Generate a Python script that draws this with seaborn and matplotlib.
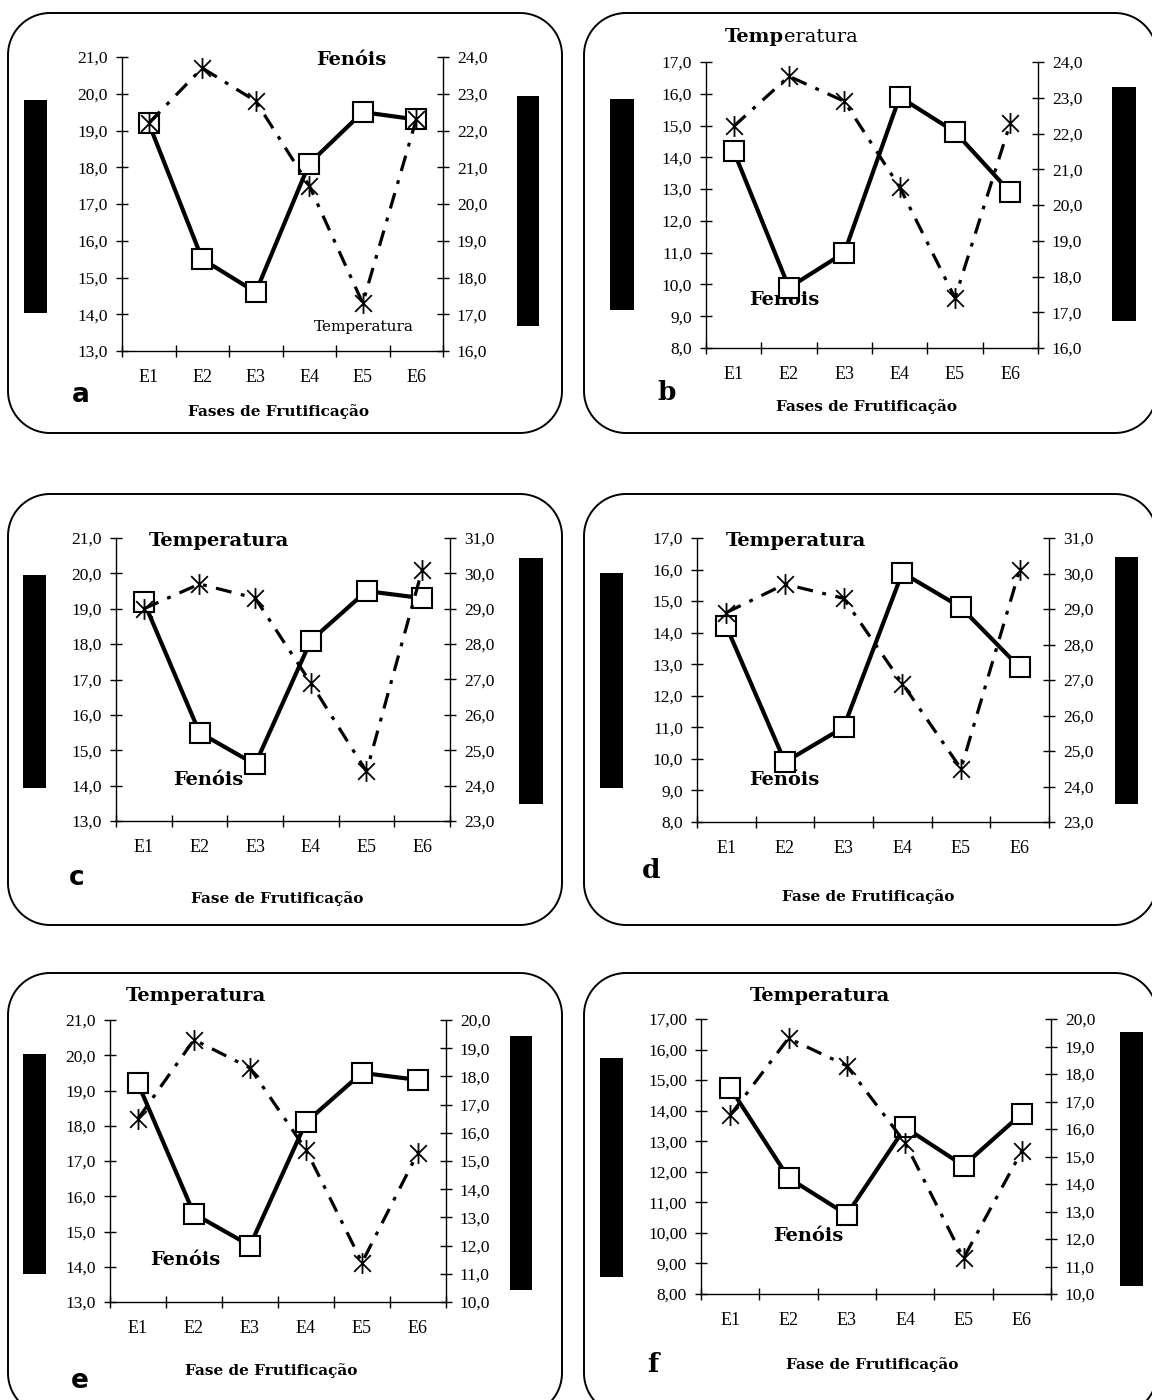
import numpy as np
import matplotlib
matplotlib.use('Agg')
import matplotlib.pyplot as plt
import seaborn as sns
from matplotlib.path import Path
from matplotlib.patches import Polygon, Rectangle
from matplotlib.ticker import FuncFormatter, FixedLocator

# data
stages = ['E1', 'E2', 'E3', 'E4', 'E5', 'E6']

fenois_ace = [19.2, 15.5, 14.6, 18.1, 19.5, 19.3]
fenois_bd = [14.2, 9.9, 11.0, 15.9, 14.8, 12.9]
fenois_f = [14.75, 11.8, 10.6, 13.45, 12.2, 13.9]

temp_a = [22.2, 23.7, 22.8, 20.5, 17.3, 22.3]
temp_b = [22.2, 23.6, 22.9, 20.5, 17.4, 22.3]
temp_c = [29.0, 29.7, 29.3, 26.9, 24.4, 30.1]
temp_d = [28.9, 29.7, 29.3, 26.9, 24.5, 30.1]
temp_e = [16.5, 19.3, 18.3, 15.4, 11.4, 15.3]
temp_f = [16.5, 19.3, 18.3, 15.5, 11.3, 15.2]

panel_letters = ['a', 'b', 'c', 'd', 'e', 'f']
xlabels = ['Fases de Frutificação', 'Fases de Frutificação', 'Fase de Frutificação',
           'Fase de Frutificação', 'Fase de Frutificação', 'Fase de Frutificação']

sns.set_style('ticks')
plt.rcParams['font.family'] = ['Liberation Serif', 'DejaVu Serif']
plt.rcParams['text.color'] = 'black'
plt.rcParams['xtick.color'] = 'black'
plt.rcParams['ytick.color'] = 'black'
plt.rcParams['xtick.labelcolor'] = 'black'
plt.rcParams['ytick.labelcolor'] = 'black'

W, H = 1152, 1400
fig = plt.figure(figsize=(W / 100, H / 100), dpi=100)

# background axes in pixel units for boxes, bars and free labels
bg = fig.add_axes([0, 0, 1, 1])
bg.set_xlim(0, W)
bg.set_ylim(H, 0)
bg.axis('off')

# star marker: vertical bar with an X through it
star = Path([(0, -1), (0, 1), (-0.8, -0.8), (0.8, 0.8), (-0.8, 0.8), (0.8, -0.8)],
            [Path.MOVETO, Path.LINETO] * 3)


def rounded_box(l, r, t, b, rad=42, n=24):
    # rounded rectangle as a plain polygon (clips cleanly at the canvas edge)
    pts = []
    corners = [(r - rad, t + rad, -90, 0), (r - rad, b - rad, 0, 90),
               (l + rad, b - rad, 90, 180), (l + rad, t + rad, 180, 270)]
    for cx, cy, a0, a1 in corners:
        ang = np.radians(np.linspace(a0, a1, n))
        pts += list(zip(cx + rad * np.cos(ang), cy + rad * np.sin(ang)))
    return Polygon(pts, closed=True, fc='none', ec='black', lw=1.4, clip_on=False)


# layout in pixels
panels = [
    dict(box=(8, 562, 13, 433), axbox=(122, 443, 57, 351), fen=fenois_ace, temp=temp_a,
         yl=(13, 21), yr=(16, 24), dl=1, bars=[(24, 47, 100, 313), (517, 539, 96, 326)],
         letter=(81, 395, 'sans'), xl=(278, 412)),
    dict(box=(584, 1157, 13, 433), axbox=(706, 1038, 62, 348), fen=fenois_bd, temp=temp_b,
         yl=(8, 17), yr=(16, 24), dl=1, bars=[(610, 634, 99, 310), (1112, 1136, 87, 321)],
         letter=(667, 392, 'serif'), xl=(867, 407)),
    dict(box=(8, 562, 494, 925), axbox=(116, 450, 538, 821), fen=fenois_ace, temp=temp_c,
         yl=(13, 21), yr=(23, 31), dl=1, bars=[(23, 46, 575, 788), (519, 543, 558, 804)],
         letter=(77, 878, 'sans'), xl=(277, 899)),
    dict(box=(584, 1157, 494, 925), axbox=(697, 1049, 538, 822), fen=fenois_bd, temp=temp_d,
         yl=(8, 17), yr=(23, 31), dl=1, bars=[(600, 623, 573, 788), (1115, 1138, 557, 804)],
         letter=(651, 870, 'serif'), xl=(868, 897)),
    dict(box=(8, 562, 973, 1415), axbox=(110, 446, 1020, 1302), fen=fenois_ace, temp=temp_e,
         yl=(13, 21), yr=(10, 20), dl=1, bars=[(23, 46, 1054, 1274), (510, 532, 1036, 1290)],
         letter=(80, 1381, 'sans'), xl=(271, 1371)),
    dict(box=(584, 1157, 973, 1415), axbox=(701, 1051, 1019, 1294), fen=fenois_f, temp=temp_f,
         yl=(8, 17), yr=(10, 20), dl=2, bars=[(600, 623, 1058, 1277), (1120, 1143, 1032, 1286)],
         letter=(653, 1365, 'serif'), xl=(872, 1365)),
]

for i, p in enumerate(panels):
    bg.add_patch(rounded_box(*p['box']))
    for (bl, br, bt, bb) in p['bars']:
        bg.add_patch(Rectangle((bl, bt), br - bl, bb - bt, fc='black', ec='none'))

    lx, ly, lf = p['letter']
    bg.text(lx, ly, panel_letters[i], ha='center', va='center', fontsize=19,
            fontweight='bold', family='DejaVu Sans' if lf == 'sans' else 'DejaVu Serif')
    bg.text(p['xl'][0], p['xl'][1], xlabels[i], ha='center', va='center',
            fontsize=11, fontweight='bold', family='DejaVu Serif')

    al, ar, at, ab = p['axbox']
    ax = fig.add_axes([al / W, 1 - ab / H, (ar - al) / W, (ab - at) / H])
    ax.patch.set_visible(False)

    sns.lineplot(x=stages, y=p['fen'], ax=ax, color='black', lw=3, marker='s', markersize=14,
                 markerfacecolor='white', markeredgecolor='black', markeredgewidth=1.5,
                 sort=False, legend=False, clip_on=False)

    ax2 = ax.twinx()
    sns.lineplot(x=stages, y=p['temp'], ax=ax2, color='black', lw=2.3,
                 linestyle=(0, (5, 3, 1.2, 3)), marker=star, markersize=15,
                 markeredgewidth=1.3, markeredgecolor='black', sort=False, legend=False,
                 clip_on=False)

    ax.set_xlim(-0.5, 5.5)
    ax.set_ylim(*p['yl'])
    ax2.set_ylim(*p['yr'])
    ax.set_yticks(np.arange(p['yl'][0], p['yl'][1] + 0.5, 1))
    ax2.set_yticks(np.arange(p['yr'][0], p['yr'][1] + 0.5, 1))
    dl = p['dl']
    ax.yaxis.set_major_formatter(FuncFormatter(lambda v, pos, d=dl: f'{v:.{d}f}'.replace('.', ',')))
    ax2.yaxis.set_major_formatter(FuncFormatter(lambda v, pos: f'{v:.1f}'.replace('.', ',')))

    ax.xaxis.set_minor_locator(FixedLocator(np.arange(-0.5, 6, 1)))
    ax.tick_params(axis='x', which='major', length=0, pad=13, labelsize=13)
    ax.tick_params(axis='x', which='minor', direction='inout', length=8, width=1, color='black')
    ax.tick_params(axis='y', direction='inout', length=8, width=1, pad=6, labelsize=12.5)
    ax2.tick_params(axis='y', direction='inout', length=8, width=1, pad=6, labelsize=12.5)

    for s in ['top', 'right']:
        ax.spines[s].set_visible(False)
    for s in ['top', 'left', 'bottom']:
        ax2.spines[s].set_visible(False)
    for a in (ax, ax2):
        for s in a.spines.values():
            s.set_linewidth(1)
            s.set_color('black')
        a.set_xlabel('')
        a.set_ylabel('')

bold = dict(fontsize=14, fontweight='bold', family='DejaVu Serif', ha='center', va='center')

# panel a
bg.text(351, 60, 'Fenóis', **bold)
bg.text(364, 327, 'Temperatura', fontsize=11, family='DejaVu Serif', ha='center', va='center')
# panel b
t1 = bg.text(725, 37, 'Temp', fontsize=14, fontweight='bold', family='DejaVu Serif',
             ha='left', va='center')
bg.annotate('eratura', xy=(1, 0), xycoords=t1, ha='left', va='bottom', fontsize=14,
            family='DejaVu Serif', annotation_clip=False)
bg.text(784, 300, 'Fenóis', **bold)
# panel c
bg.text(219, 541, 'Temperatura', **bold)
bg.text(208, 780, 'Fenóis', **bold)
# panel d
bg.text(796, 541, 'Temperatura', **bold)
bg.text(784, 780, 'Fenóis', **bold)
# panel e
bg.text(196, 996, 'Temperatura', **bold)
bg.text(185, 1260, 'Fenóis', **bold)
# panel f
bg.text(820, 996, 'Temperatura', **bold)
bg.text(808, 1236, 'Fenóis', **bold)

fig.savefig('out.png', dpi=100, facecolor='white')
